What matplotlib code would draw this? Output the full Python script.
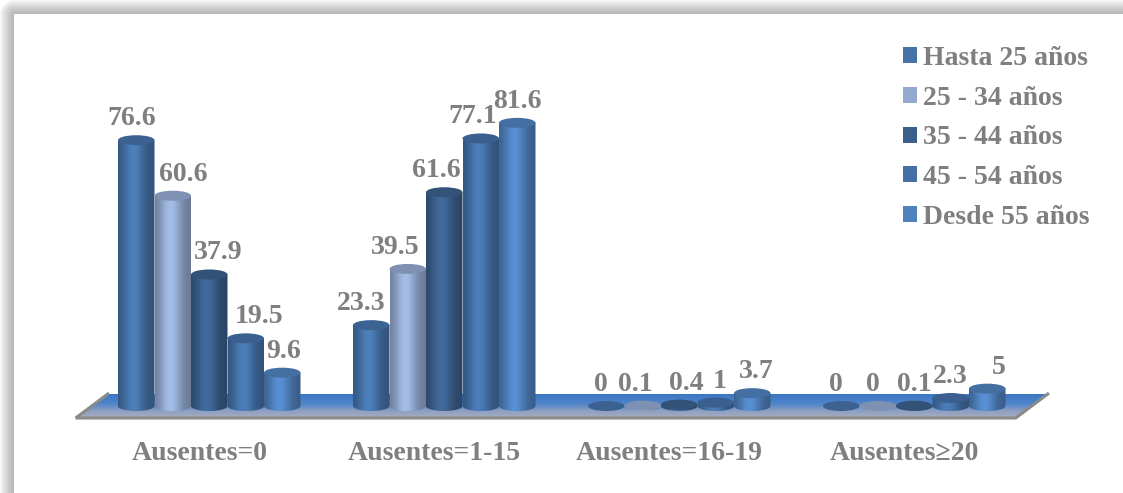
import numpy as np
import matplotlib
matplotlib.use("Agg")
import matplotlib.pyplot as plt
from matplotlib.patches import Ellipse, PathPatch, Polygon, Patch
from matplotlib.path import Path
from matplotlib.colors import to_rgb
from matplotlib.font_manager import FontProperties

# ---------------------------------------------------------------- data
categories = ["Ausentes=0", "Ausentes=1-15", "Ausentes=16-19", "Ausentes≥20"]
series_names = ["Hasta 25 años", "25 - 34 años", "35 - 44 años",
                "45 - 54 años", "Desde 55 años"]
hasta_25 = [76.6, 23.3, 0, 0]
de_25_34 = [60.6, 39.5, 0.1, 0]
de_35_44 = [37.9, 61.6, 0.4, 0.1]
de_45_54 = [19.5, 77.1, 1, 2.3]
desde_55 = [9.6, 81.6, 3.7, 5]
series_values = [hasta_25, de_25_34, de_35_44, de_45_54, desde_55]

# ---------------------------------------------------------------- style
series_colors = ["#4572A7", "#93A9CF", "#3A5F8B", "#4470A6", "#4F81BD"]
TEXT_GRAY = "#7F7F7F"
FONT = ["Liberation Serif", "DejaVu Serif"]
FS = 20
# horizontal nudge of each value label (pixels), per category then series
label_dx_px = [[-4.5, 11, 9, 13, 1],
               [-10, -13, -7.5, -8, 0],
               [-5.5, -7, 7.5, 4, 4.5],
               [-5.5, -5, 0, 0, 11.5]]

W_PX, H_PX, DPI = 1123, 493, 100
GROUP_PX = 235.0        # pixels between category centres
UNIT_PX = 3.47          # pixels per percentage point
X0_PX = 209.25          # pixel column of first category centre
Y0_PX = 406.0           # pixel row of the zero line
BAR_PX = 36.5           # cylinder diameter in pixels


def px_x(p):
    return p / GROUP_PX


def px_y(p):
    return p / UNIT_PX


fig = plt.figure(figsize=(W_PX / DPI, H_PX / DPI), dpi=DPI)

# ------------------------------------------------ panel with soft shadow
bg_ax = fig.add_axes([0, 0, 1, 1])
bg_ax.set_axis_off()
yy, xx = np.mgrid[0:H_PX, 0:W_PX]
ddx = np.clip(14 - xx, 0, None)
ddy = np.clip(14 - yy, 0, None)
dist = np.hypot(ddx, ddy)
outside = (xx < 14) | (yy < 14)
dark = np.where(outside, 0.30 * np.clip(1 - dist / 15.0, 0, 1) ** 0.8, 0.0)
bg_ax.imshow(1 - dark, cmap="gray", vmin=0, vmax=1,
             extent=[0, W_PX, H_PX, 0], aspect="auto", interpolation="bilinear")
bg_ax.set_xlim(0, W_PX)
bg_ax.set_ylim(H_PX, 0)

# ------------------------------------------------ chart axes
ax = fig.add_axes([0, 0, 1, 1])
ax.set_axis_off()
ax.patch.set_alpha(0)

bar_w = px_x(BAR_PX)
n_series = len(series_values)
e = px_y(5)  # half height of the cylinder ellipses

# floor slab
slant, depth = px_x(16), px_y(12)
fx0, fx1 = -0.5, len(categories) - 0.5
floor_pts = [(fx0 - slant, -depth), (fx0 + slant, depth),
             (fx1 + slant, depth), (fx1 - slant, -depth)]
floor_poly = Polygon(floor_pts, closed=True, facecolor="none", edgecolor="none")
ax.add_patch(floor_poly)
stops = np.array([0.0, 0.40, 0.70, 1.0])
stop_cols = np.array([to_rgb("#3C77C4"), to_rgb("#4F84CA"),
                      to_rgb("#8C9FC2"), to_rgb("#A9ADBD")])
tt = np.linspace(0, 1, 64)
grad = np.stack([np.interp(tt, stops, stop_cols[:, k]) for k in range(3)], axis=1)
fim = ax.imshow(grad[:, None, :], extent=[fx0 - slant, fx1 + slant, -depth, depth],
                aspect="auto", interpolation="bilinear", zorder=1)
fim.set_clip_path(floor_poly)
ax.plot([floor_pts[1][0], floor_pts[0][0], floor_pts[3][0], floor_pts[2][0]],
        [floor_pts[1][1], floor_pts[0][1], floor_pts[3][1], floor_pts[2][1]],
        color="#8A8A8A", lw=2.2, solid_joinstyle="miter", zorder=1.5)


def cylinder(xc, h, color, z):
    base = np.array(to_rgb(color))
    xl, xr = xc - bar_w / 2, xc + bar_w / 2
    if h > 0:
        t = np.linspace(0, 1, 80)
        f = 0.72 + 0.40 * np.exp(-((t - 0.42) / 0.30) ** 2)
        strip = np.clip(base[None, :] * f[:, None], 0, 1)[None, :, :]
        theta = np.linspace(np.pi, 2 * np.pi, 40)
        bottom = np.column_stack([xc + bar_w / 2 * np.cos(theta), e * np.sin(theta)])
        verts = np.vstack([[xl, h], bottom, [xr, h], [xl, h]])
        body = PathPatch(Path(verts, closed=True), facecolor="none", edgecolor="none")
        ax.add_patch(body)
        im = ax.imshow(strip, extent=[xl, xr, -e, h], aspect="auto",
                       interpolation="bilinear", zorder=z)
        im.set_clip_path(body)
    ax.add_patch(Ellipse((xc, h), bar_w, 2 * e, facecolor=np.clip(base * 0.86, 0, 1),
                         edgecolor="none", zorder=z + 0.1))


for gi, cat in enumerate(categories):
    for si in range(n_series):
        v = series_values[si][gi]
        xc = gi + (si - (n_series - 1) / 2) * bar_w
        cylinder(xc, v, series_colors[si], 2 + gi * 0.01 + si * 0.001)
        ax.annotate(f"{v:g}", xy=(xc, v), xytext=(label_dx_px[gi][si], 15),
                    textcoords="offset pixels", ha="center", va="baseline",
                    fontsize=FS, fontweight="bold", family=FONT, color=TEXT_GRAY,
                    zorder=5)
    ax.text(gi + px_x(-9.5), px_y(-54), cat, ha="center", va="baseline",
            fontsize=FS, fontweight="bold", family=FONT, color=TEXT_GRAY, zorder=5)

ax.set_xlim(-X0_PX / GROUP_PX, (W_PX - X0_PX) / GROUP_PX)
ax.set_ylim(-(H_PX - Y0_PX) / UNIT_PX, Y0_PX / UNIT_PX)
ax.set_aspect("auto")

# legend
handles = [Patch(facecolor=c, edgecolor="none") for c in series_colors]
fig.legend(handles, series_names, loc="upper left",
           bbox_to_anchor=(903 / W_PX, 1 - 46 / H_PX), frameon=False,
           prop=FontProperties(family=FONT, weight="bold", size=FS),
           labelcolor=TEXT_GRAY, handlelength=0.5, handleheight=0.5,
           handletextpad=0.22, labelspacing=0.53, borderpad=0, borderaxespad=0)

fig.savefig("out.png", dpi=DPI)
